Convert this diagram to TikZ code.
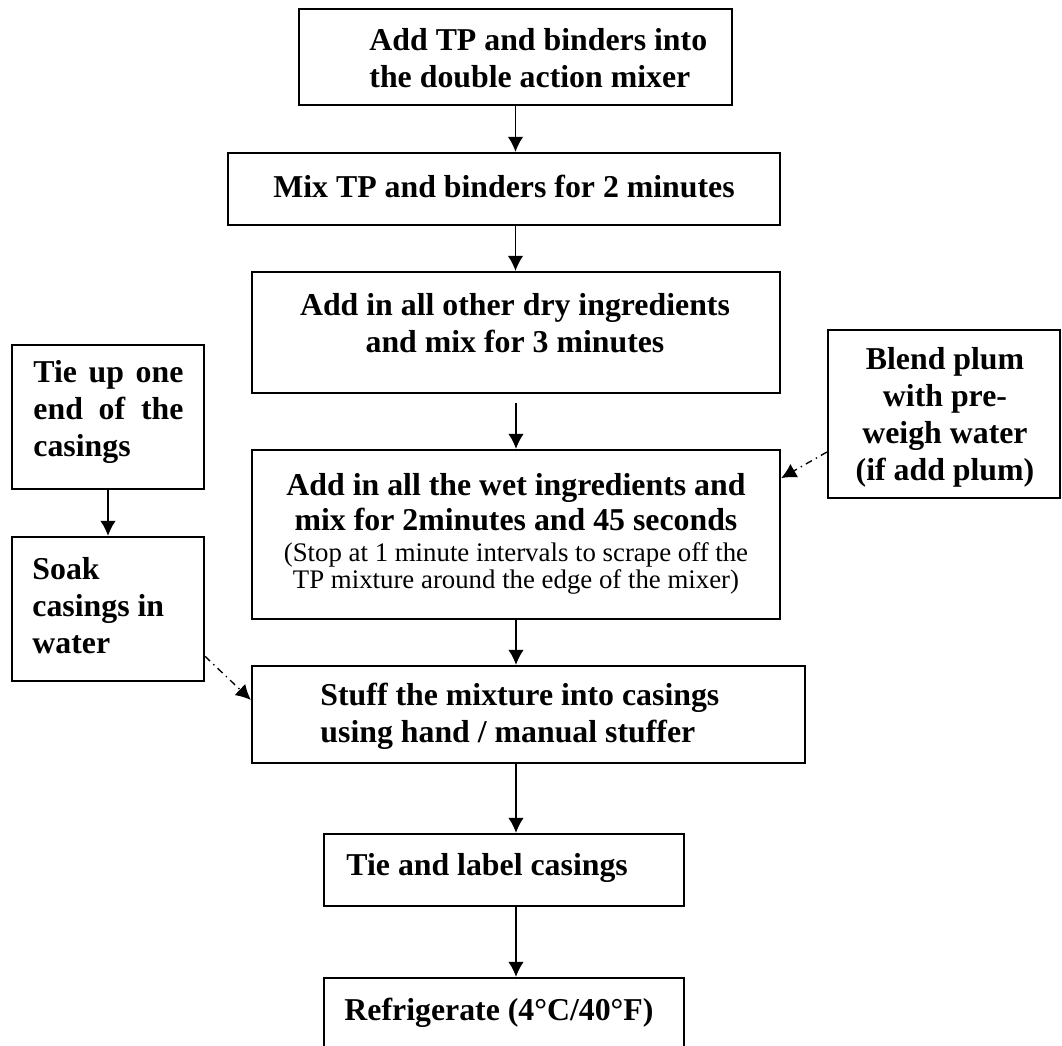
\documentclass[tikz,border=0pt]{standalone}
\usepackage{fontspec}
\setmainfont{Liberation Serif}
\usetikzlibrary{arrows.meta}

\def\px{0.44pt} % one pixel of the layout
\tikzset{
  box/.style={draw, line width=1pt, inner sep=0pt},
  bold/.style={font=\bfseries\fontsize{14}{16.3}\selectfont, inner sep=0pt},
  note/.style={font=\fontsize{11.8}{11.9}\selectfont, inner sep=0pt},
  flow/.style={line width=0.6pt, -{Latex[length=6.6pt,width=6.8pt]}},
  aux/.style={flow, dash dot},
}

\begin{document}
\begin{tikzpicture}[x=\px, y=-\px]
\useasboundingbox (0,0) rectangle (1062,1046);

%main column
\node[box, minimum width=433*\px, minimum height=96*\px] (load) at (515.5,57) {};
\node[bold, align=left, anchor=west] (loadtxt) at (369,58) {Add TP and binders into\\the double action mixer};

\node[box, minimum width=552*\px, minimum height=72*\px] (mix) at (504,189) {};
\node[bold] (mixtxt) at (504,186) {Mix TP and binders for 2 minutes};

\node[box, minimum width=528*\px, minimum height=121*\px] (dry) at (516,332.5) {};
\node[bold, align=center] (drytxt) at (515,323) {Add in all other dry ingredients\\and mix for 3 minutes};

\node[box, minimum width=528*\px, minimum height=169*\px] (wet) at (516,534.5) {};
\node[bold, align=center, font=\bfseries\fontsize{14}{15.4}\selectfont] (wettxt) at (516,502) {Add in all the wet ingredients and\\mix for 2minutes and 45 seconds};
\node[note, align=center] (wetnote) at (516,568) {(Stop at 1 minute intervals to scrape off the\\TP mixture around the edge of the mixer)};

\node[box, minimum width=553*\px, minimum height=97*\px] (stuff) at (528.5,714.5) {};
\node[bold, align=left, anchor=west] (stufftxt) at (320,716) {Stuff the mixture into casings\\using hand / manual stuffer};

\node[box, minimum width=360*\px, minimum height=72*\px] (tie) at (504,870) {};
\node[bold, anchor=west] (tietxt) at (346,868) {Tie and label casings};

\node[box, minimum width=360*\px, minimum height=102*\px] (fridge) at (504,1029) {};
\node[bold, anchor=west] (fridgetxt) at (344,1013) {Refrigerate (4°C/40°F)};

%side boxes
\node[box, minimum width=192*\px, minimum height=144*\px] (tieup) at (108,417) {};
\node[bold, text width=150*\px, align=left, anchor=west] (tieuptxt) at (33,412) {Tie\hfill up\hfill one\\end\hfill of\hfill the\\casings};

\node[box, minimum width=192*\px, minimum height=144*\px] (soak) at (108,609) {};
\node[bold, align=left, anchor=west] (soaktxt) at (32,606) {Soak\\casings in\\water};

\node[box, minimum width=232*\px, minimum height=168*\px] (blend) at (944,414) {};
\node[bold, align=center] (blendtxt) at (945,417) {Blend plum\\with pre-\\weigh water\\(if add plum)};

%flow
\draw[flow] (load.south) -- (load.south |- mix.north);
\draw[flow] (load.south |- mix.south) -- (load.south |- dry.north);
\draw[flow, shorten <=4pt] (dry.south) -- (wet.north);
\draw[flow] (wet.south) -- (wet.south |- stuff.north);
\draw[flow] (wet.south |- stuff.south) -- (wet.south |- tie.north);
\draw[flow] (wet.south |- tie.south) -- (wet.south |- fridge.north);
\draw[flow] (tieup.south) -- (soak.north);
\draw[aux] (soak.-26.6) -- (stuff.177.6);
\draw[aux] (blend.198.1) -- (wet.12.7);

\end{tikzpicture}
\end{document}
